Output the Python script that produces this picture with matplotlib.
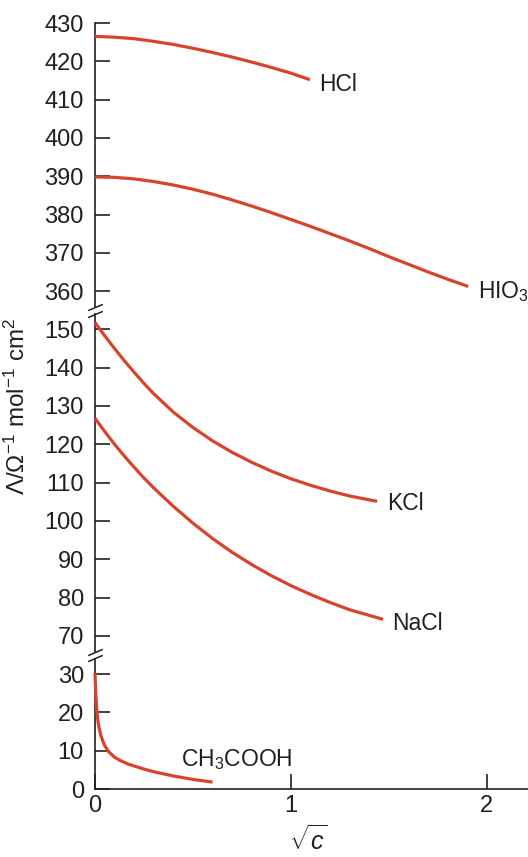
import numpy as np
import matplotlib
matplotlib.use('Agg')
import matplotlib.pyplot as plt
from matplotlib.transforms import offset_copy

plt.rcParams['font.family'] = ['Liberation Sans', 'DejaVu Sans']
plt.rcParams['mathtext.fontset'] = 'custom'
plt.rcParams['mathtext.rm'] = 'Liberation Sans'
plt.rcParams['mathtext.it'] = 'Liberation Sans:italic'
plt.rcParams['mathtext.bf'] = 'Liberation Sans:bold'

# curves (x = sqrt(c), y = molar conductivity)
hcl_x = [0, 0.1, 0.2, 0.3, 0.4, 0.5, 0.6, 0.7, 0.8, 0.9, 1.0, 1.097]
hcl_y = [426.5, 426.3, 425.9, 425.2, 424.4, 423.4, 422.3, 421.1, 419.8, 418.4, 416.9, 415.2]

hio3_x = [0, 0.1, 0.2, 0.3, 0.4, 0.5, 0.6, 0.7, 0.8, 0.9, 1.0,
          1.1, 1.2, 1.3, 1.4, 1.5, 1.6, 1.7, 1.8, 1.905]
hio3_y = [389.8, 389.7, 389.3, 388.6, 387.7, 386.6, 385.3, 383.8, 382.2, 380.5, 378.7,
          376.9, 375.0, 373.1, 371.1, 369.0, 367.0, 365.0, 363.1, 361.2]

kcl_x = [0, 0.05, 0.1, 0.15, 0.2, 0.25, 0.3, 0.4, 0.5, 0.6, 0.7, 0.8,
         0.9, 1.0, 1.1, 1.2, 1.3, 1.44]
kcl_y = [151.8, 148.3, 145.0, 141.8, 138.8, 135.9, 133.2, 128.4, 124.4, 120.9, 117.9, 115.3,
         113.0, 111.0, 109.3, 107.8, 106.5, 105.1]

nacl_x = [0, 0.05, 0.1, 0.15, 0.2, 0.25, 0.3, 0.4, 0.5, 0.6, 0.7, 0.8,
          0.9, 1.0, 1.1, 1.2, 1.3, 1.47]
nacl_y = [126.8, 123.3, 120.0, 116.9, 114.0, 111.2, 108.6, 103.8, 99.4, 95.4, 91.8, 88.6,
          85.7, 83.1, 80.8, 78.7, 76.8, 74.3]

acoh_x = [0, 0.005, 0.01, 0.015, 0.02, 0.03, 0.04, 0.05, 0.07, 0.1, 0.13,
          0.17, 0.2, 0.25, 0.3, 0.4, 0.5, 0.6]
acoh_y = [30.2, 24.0, 20.0, 17.8, 16.2, 14.0, 12.5, 11.3, 9.7, 8.3, 7.4,
          6.5, 6.0, 5.2, 4.5, 3.4, 2.5, 1.8]

names = ['HCl', 'HIO$_3$', 'KCl', 'NaCl', 'CH$_3$COOH']
# label offset from the curve end, pixels
label_offsets = [(9, -5), (10, -5), (10, -2), (9, -4), (-32, 23)]

yticks = [0, 10, 20, 30, 70, 80, 90, 100, 110, 120, 130, 140, 150,
          360, 370, 380, 390, 400, 410, 420, 430]
xticks = [0, 1, 2]

# broken y axis: squeeze 30-70 and 150-360 into short gaps,
# keeping a few units of normal scale next to each break
brk_data = [-1000, 34, 66, 154, 356, 1000]
brk_axis = [-1000, 34, 36, 124, 126, 770]
gap_centres = [50, 255]


def fwd(y):
    return np.interp(y, brk_data, brk_axis)


def inv(v):
    return np.interp(v, brk_axis, brk_data)


red = '#d9432b'
ink = '#231f20'

fig = plt.figure(figsize=(5.28, 8.57), dpi=100)
ax = fig.add_axes([95 / 528, 68 / 857, 433 / 528, 766 / 857])
ax.set_yscale('function', functions=(fwd, inv))

series = [(hcl_x, hcl_y), (hio3_x, hio3_y), (kcl_x, kcl_y),
          (nacl_x, nacl_y), (acoh_x, acoh_y)]
for (xs, ys), name, off in zip(series, names, label_offsets):
    ax.plot(xs, ys, color=red, lw=2.3, solid_capstyle='butt',
            solid_joinstyle='round', clip_on=False, zorder=3)
    ax.annotate(name, (xs[-1], ys[-1]), xytext=off, textcoords='offset pixels',
                ha='left', va='center', fontsize=16.5, color=ink)

ax.set_xlim(0, 2.21)
ax.set_ylim(0, 430)
ax.set_yticks(yticks, [str(t) for t in yticks])
ax.set_xticks(xticks, [str(t) for t in xticks])

for s in ['top', 'right']:
    ax.spines[s].set_visible(False)
for s in ['left', 'bottom']:
    ax.spines[s].set_color(ink)
    ax.spines[s].set_linewidth(1.2)

ax.tick_params(axis='both', direction='in', length=11, width=1.2, color=ink,
               labelsize=17, labelcolor=ink)
ax.tick_params(axis='y', pad=8)
ax.tick_params(axis='x', pad=4)

# axis break marks
for yc in gap_centres:
    ax.plot([0], [yc], marker='|', ms=5, mew=3, color='white',
            clip_on=False, zorder=6)
    for dy in (3.4, -3.4):
        tr = offset_copy(ax.transData, fig=fig, x=0, y=dy, units='dots')
        ax.plot([0], [yc], marker=[(-1, -0.43), (1, 0.43)], ms=10.5, mew=1.1,
                color=ink, transform=tr, clip_on=False, zorder=7)

ax.set_ylabel('Λ/Ω$^{-1}$ mol$^{-1}$ cm$^{2}$', fontsize=17.5, color=ink)
ax.yaxis.set_label_coords(-0.15, 0.5)
ax.set_xlabel(r'$\sqrt{c}$', fontsize=18, color=ink)
ax.xaxis.set_label_coords(0.492, -0.048)

fig.savefig('out.png', dpi=100)
